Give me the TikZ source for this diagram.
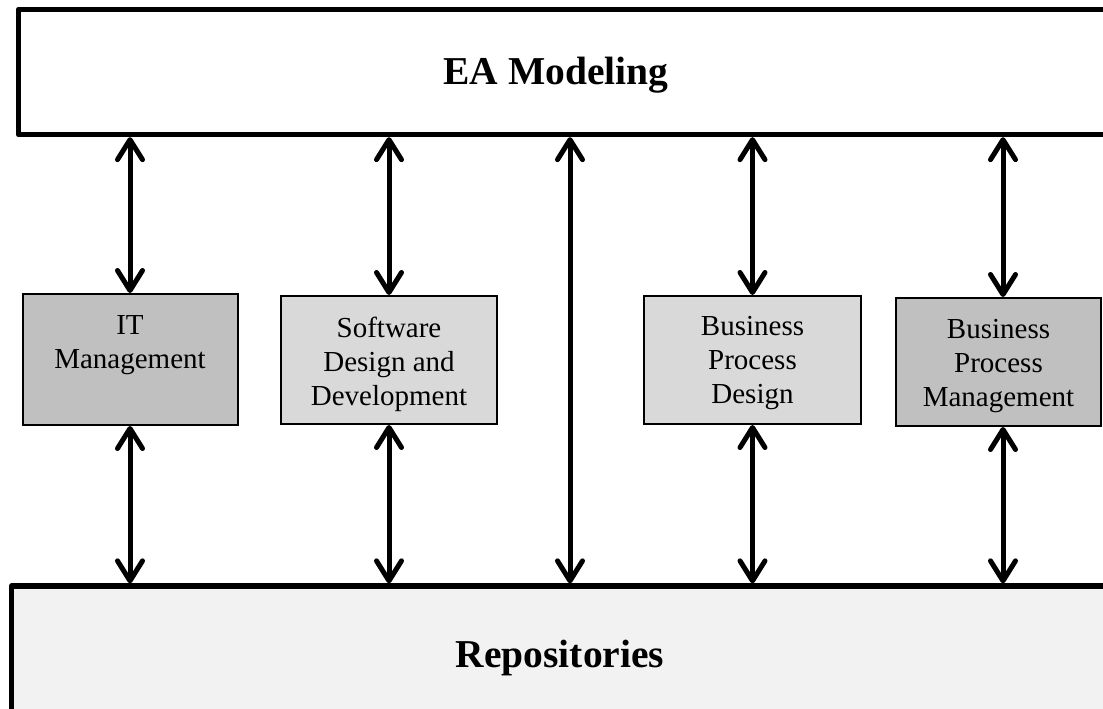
\documentclass[tikz,border=0pt]{standalone}
\usepackage{fontspec}
\setmainfont{Liberation Serif}
\usetikzlibrary{arrows.meta}
\definecolor{darkfill}{HTML}{C0C0C0}
\definecolor{lightfill}{HTML}{D9D9D9}
\definecolor{repofill}{HTML}{F2F2F2}
\begin{document}
\begin{tikzpicture}[x=1pt,y=-1pt,
  bigbox/.style={draw, line width=5.3pt, line join=round, inner sep=0pt},
  bigtext/.style={font=\bfseries\fontsize{39.5}{46}\selectfont, inner sep=0pt},
  midbox/.style={draw, line width=2pt, inner sep=0pt, align=center, font=\fontsize{29}{34}\selectfont},
  midtext/.style={inner sep=0pt, align=center, font=\fontsize{29}{34}\selectfont},
  biarrow/.style={line width=5pt, {Straight Barb[length=20pt,width=25pt,round]}-{Straight Barb[length=20pt,width=25pt,round]}}
]
\clip (0,0) rectangle (1103,709);
\fill[white] (0,0) rectangle (1103,709);
% big boxes
\node[bigbox, fill=white, minimum width=1111.5pt, minimum height=125pt] (ea) at (574.25,72) {};
\node[bigtext] (eat) at (556,75) {EA Modeling};
\node[bigbox, fill=repofill, minimum width=1118.5pt, minimum height=154pt] (repo) at (570.75,663) {};
\node[bigtext] (repot) at (560,658) {Repositories};
% middle boxes
\node[midbox, fill=darkfill, minimum width=215pt, minimum height=131pt] (it) at (130,359.5) {IT\\Management\\\mbox{}};
\node[midbox, fill=lightfill, minimum width=216pt, minimum height=128pt] (sw) at (389,360) {};
\node[midtext] (swt) at ([yshift=-4pt]sw.center) {Software\\Design and\\Development};
\node[midbox, fill=lightfill, minimum width=217pt, minimum height=128pt] (bpd) at (752.5,360) {};
\node[midtext] (bpdt) at ([yshift=-3pt]bpd.center) {Business\\Process\\Design};
\node[midbox, fill=darkfill, minimum width=205pt, minimum height=128pt] (bpm) at (998.5,362) {};
\node[midtext] (bpmt) at ([yshift=-4pt]bpm.center) {Business\\Process\\Management};
% column coordinates
\coordinate (mid) at (570,360);
\coordinate (bpmtop) at ([xshift=4.5pt]bpm.north);
\coordinate (bpmbot) at ([xshift=4.5pt]bpm.south);
% arrows
\draw[biarrow] (ea.south -| it.north) -- (it.north);
\draw[biarrow] (it.south) -- (repo.north -| it.south);
\draw[biarrow] (ea.south -| sw.north) -- (sw.north);
\draw[biarrow] (sw.south) -- (repo.north -| sw.south);
\draw[biarrow] (ea.south -| mid) -- (repo.north -| mid);
\draw[biarrow] (ea.south -| bpd.north) -- (bpd.north);
\draw[biarrow] (bpd.south) -- (repo.north -| bpd.south);
\draw[biarrow] (ea.south -| bpmtop) -- (bpmtop);
\draw[biarrow] (bpmbot) -- (repo.north -| bpmbot);
\end{tikzpicture}
\end{document}
